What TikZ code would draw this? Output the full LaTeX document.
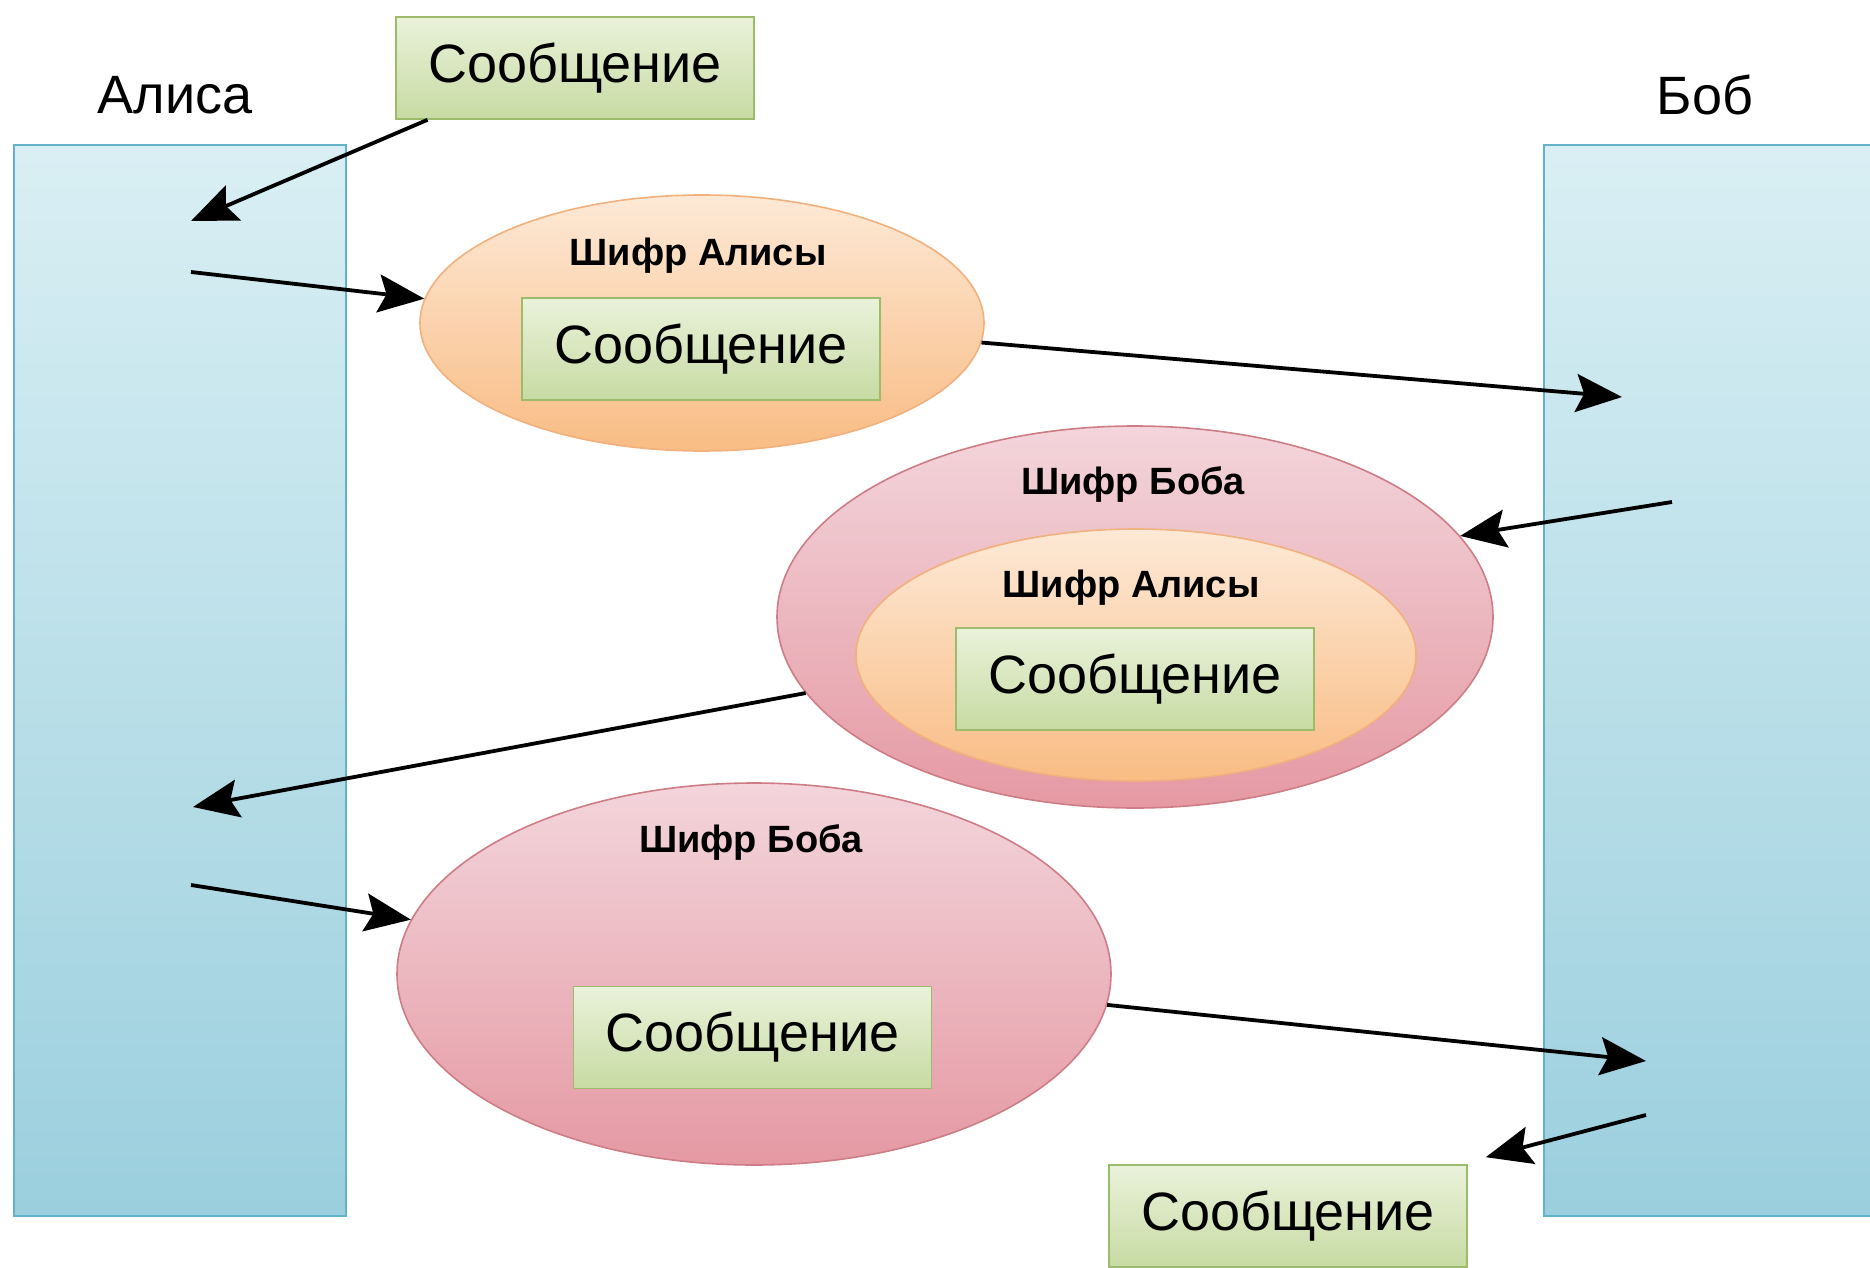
\documentclass[tikz,border=0pt]{standalone}
\usepackage{fontspec}
\setmainfont{Liberation Sans}
\usetikzlibrary{shapes.geometric,arrows.meta,calc}

\definecolor{partyTop}{HTML}{D9EFF4}
\definecolor{partyBot}{HTML}{9BCFDE}
\definecolor{partyLine}{HTML}{62B3CA}
\definecolor{msgTop}{HTML}{EAF2DA}
\definecolor{msgBot}{HTML}{C7DBA3}
\definecolor{msgLine}{HTML}{9CBB6B}
\definecolor{aliceTop}{HTML}{FDE9D6}
\definecolor{aliceBot}{HTML}{F9BC84}
\definecolor{aliceLine}{HTML}{F2B07C}
\definecolor{bobTop}{HTML}{F3D5DB}
\definecolor{bobBot}{HTML}{E599A3}
\definecolor{bobLine}{HTML}{CE7C86}

\tikzset{
  party/.style={rectangle, draw=partyLine, line width=0.8pt, top color=partyTop, bottom color=partyBot,
    minimum width=166pt, minimum height=535.5pt, inner sep=0pt},
  msg/.style={rectangle, draw=msgLine, line width=0.8pt, top color=msgTop, bottom color=msgBot,
    minimum width=179pt, minimum height=51pt, inner sep=0pt, font=\fontsize{27}{30}\selectfont},
  aliceCiph/.style={ellipse, draw=aliceLine, line width=0.8pt, top color=aliceTop, bottom color=aliceBot, inner sep=0pt},
  bobCiph/.style={ellipse, draw=bobLine, line width=0.8pt, top color=bobTop, bottom color=bobBot, inner sep=0pt},
  who/.style={font=\fontsize{27}{30}\selectfont, inner sep=0pt},
  tag/.style={font=\fontsize{19}{22}\selectfont\bfseries, inner sep=0pt},
  conn/.style={-{Stealth[length=23pt,width=19pt,inset=4pt]}, line width=1.9pt, black}
}

\begin{document}
\begin{tikzpicture}[x=0.5pt, y=-0.5pt]
  \useasboundingbox (0,0) rectangle (1870,1268);
  \clip (0,0) rectangle (1870,1268);

  % parties
  \node[party] (alice) at (180,680.5) {};
  \node[party] (bob) at (1710,680.5) {};
  \node[who] (aliceName) at (175,95) {Алиса};
  \node[who] (bobName) at (1705,95) {Боб};

  % plain messages
  \node[msg] (msgA) at (575,68) {Сообщение};
  \node[msg] (msgB) at (1288,1216) {Сообщение};

  % Alice's cipher
  \node[aliceCiph, minimum width=282pt, minimum height=128pt] (ell1) at (702,323) {};
  \node[tag] (tag1) at (698,256) {Шифр Алисы};
  \node[msg] (msg1) at (701,349) {Сообщение};

  % Bob's cipher over Alice's cipher
  \node[bobCiph, minimum width=358pt, minimum height=191pt] (ell2) at (1135,617) {};
  \node[tag] (tag2) at (1133,485) {Шифр Боба};
  \node[aliceCiph, minimum width=280pt, minimum height=126pt] (ell2in) at (1136,655) {};
  \node[tag] (tag3) at (1131,588) {Шифр Алисы};
  \node[msg] (msg2) at (1135,679) {Сообщение};

  % Bob's cipher
  \node[bobCiph, minimum width=357pt, minimum height=191pt] (ell3) at (754,974) {};
  \node[tag] (tag4) at (751,843) {Шифр Боба};
  \node[msg] (msg3) at (752.5,1037.5) {Сообщение};

  % arrow ends inside the parties
  \coordinate (a1) at (191,221);
  \coordinate (a2) at (191,272);
  \coordinate (a3) at (193,807);
  \coordinate (a4) at (191,885);
  \coordinate (b1) at (1622,397);
  \coordinate (b2) at (1672,502);
  \coordinate (b3) at (1646,1061);
  \coordinate (b4) at (1646,1115);

  \draw[conn] ($(msgA.south west)!0.09!(msgA.south east)$) -- (a1);
  \draw[conn] (a2) -- (ell1.175);
  \draw[conn] (ell1.356) -- (b1);
  \draw[conn] (b2) -- (ell2.14);
  \draw[conn] (ell2.193) -- (a3);
  \draw[conn] (a4) -- (ell3.171);
  \draw[conn] (ell3.355) -- (b3);
  \draw[conn] (b4) -- ([shift={(18,-7)}]msgB.north east);
\end{tikzpicture}
\end{document}
